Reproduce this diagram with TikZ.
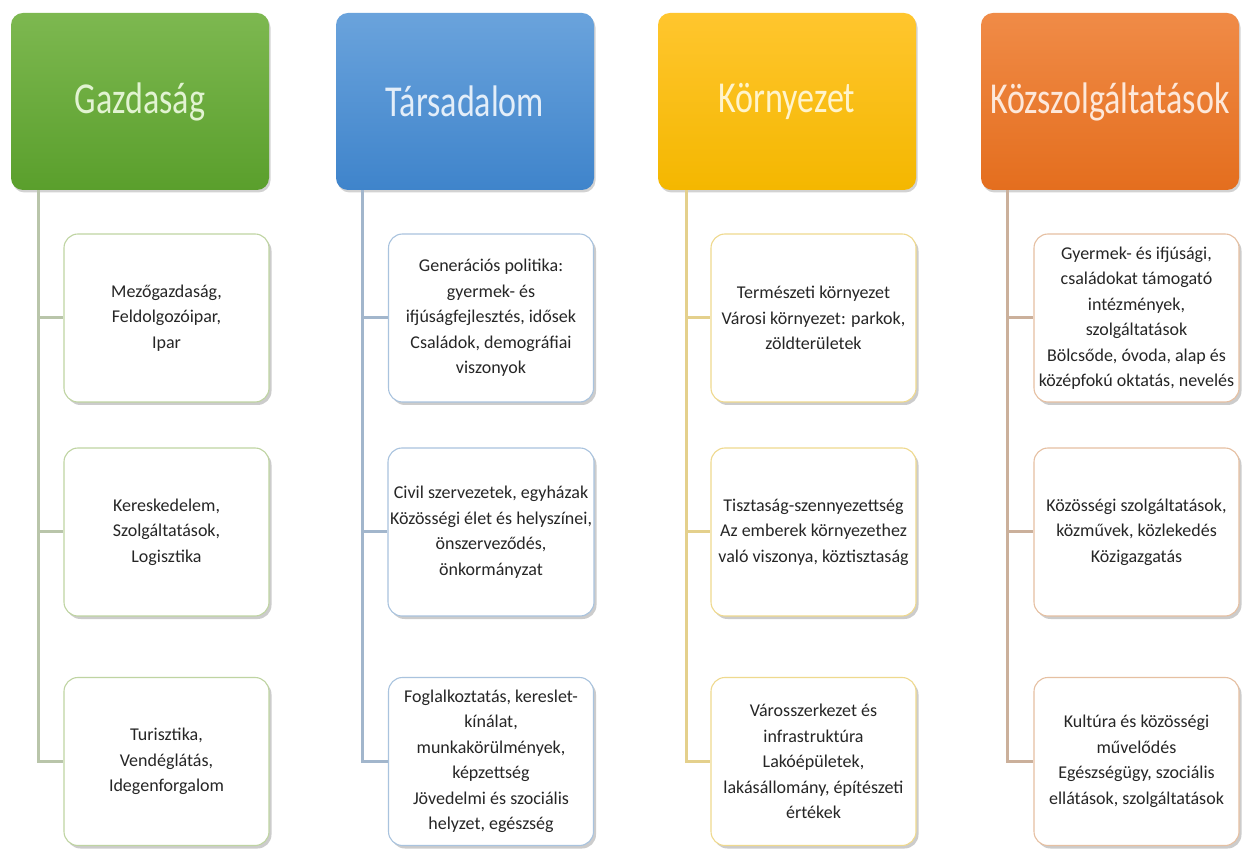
\documentclass[tikz,border=0pt]{standalone}
\usepackage{fontspec}
\usepackage{graphicx}
\setmainfont{Carlito}
\usetikzlibrary{shadows}
\definecolor{gTop}{HTML}{7DB850}
\definecolor{gBot}{HTML}{5A9F2C}
\definecolor{tTop}{HTML}{6AA3DC}
\definecolor{tBot}{HTML}{3F84CB}
\definecolor{kTop}{HTML}{FFC62E}
\definecolor{kBot}{HTML}{F4B700}
\definecolor{oTop}{HTML}{F08B47}
\definecolor{oBot}{HTML}{E46E1E}
\definecolor{gTxt}{HTML}{E2F3D2}
\definecolor{tTxt}{HTML}{E3EEF9}
\definecolor{kTxt}{HTML}{FFF4CC}
\definecolor{oTxt}{HTML}{FDE8DA}
\definecolor{gBrd}{HTML}{BFD4A2}
\definecolor{tBrd}{HTML}{A9C3DE}
\definecolor{kBrd}{HTML}{EFD98E}
\definecolor{oBrd}{HTML}{E6C0A2}
\definecolor{gLn}{HTML}{B9C5AA}
\definecolor{tLn}{HTML}{A2B6CC}
\definecolor{kLn}{HTML}{E4D08C}
\definecolor{oLn}{HTML}{CBB09B}
\definecolor{kidTxt}{HTML}{262626}
\tikzset{
  hdr/.style={rectangle, rounded corners=12pt, minimum width=258pt, minimum height=177pt,
    inner sep=0pt, drop shadow={shadow xshift=1.5pt, shadow yshift=-2.5pt, opacity=.35},
    font=\fontsize{34}{40}\selectfont},
  kid/.style={rectangle, draw, fill=white, rounded corners=14pt, minimum width=205pt,
    minimum height=168pt, line width=1.1pt, align=center, inner sep=2pt,
    drop shadow={shadow xshift=2.5pt, shadow yshift=-3pt, opacity=.4},
    font=\fontsize{18}{25.5}\selectfont, text=kidTxt},
  conn/.style={line width=3pt},
}
\begin{document}
\begin{tikzpicture}[x=1pt,y=1pt]
\fill[white] (0,0) rectangle (1242,852);
\useasboundingbox (0,0) rectangle (1242,852);

% headers
\node[hdr, top color=gTop, bottom color=gBot, text=gTxt] (G) at (140,750.5) {\scalebox{1}[1.3]{Gazdaság}};
\node[hdr, top color=tTop, bottom color=tBot, text=tTxt] (T) at (465,750.5) {\scalebox{1}[1.3]{Társadalom}};
\node[hdr, top color=kTop, bottom color=kBot, text=kTxt] (K) at (787,750.5) {\scalebox{1}[1.3]{Környezet}};
\node[hdr, top color=oTop, bottom color=oBot, text=oTxt] (O) at (1110,750.5) {\scalebox{1}[1.3]{Közszolgáltatások}};

% Gazdaság children
\node[kid, draw=gBrd] (G1) at (166.5,534) {Mezőgazdaság,\\Feldolgozóipar,\\Ipar};
\node[kid, draw=gBrd] (G2) at (166.5,320) {Kereskedelem,\\Szolgáltatások,\\Logisztika};
\node[kid, draw=gBrd] (G3) at (166.5,90.5) {Turisztika,\\Vendéglátás,\\Idegenforgalom};

% Társadalom children
\node[kid, draw=tBrd] (T1) at (491,534) {Generációs politika:\\gyermek- és\\ifjúságfejlesztés, idősek\\Családok, demográfiai\\viszonyok};
\node[kid, draw=tBrd] (T2) at (491,320) {Civil szervezetek, egyházak\\Közösségi élet és helyszínei,\\önszerveződés,\\önkormányzat};
\node[kid, draw=tBrd] (T3) at (491,90.5) {Foglalkoztatás, kereslet-\\kínálat,\\munkakörülmények,\\képzettség\\Jövedelmi és szociális\\helyzet, egészség};

% Környezet children
\node[kid, draw=kBrd] (K1) at (813.5,534) {Természeti környezet\\Városi környezet: parkok,\\zöldterületek};
\node[kid, draw=kBrd] (K2) at (813.5,320) {Tisztaság-szennyezettség\\Az emberek környezethez\\való viszonya, köztisztaság};
\node[kid, draw=kBrd] (K3) at (813.5,90.5) {Városszerkezet és\\infrastruktúra\\Lakóépületek,\\lakásállomány, építészeti\\értékek};

% Közszolgáltatások children
\node[kid, draw=oBrd] (O1) at (1136.5,534) {Gyermek- és ifjúsági,\\családokat támogató\\intézmények,\\szolgáltatások\\Bölcsőde, óvoda, alap és\\középfokú oktatás, nevelés};
\node[kid, draw=oBrd] (O2) at (1136.5,320) {Közösségi szolgáltatások,\\közművek, közlekedés\\Közigazgatás};
\node[kid, draw=oBrd] (O3) at (1136.5,90.5) {Kultúra és közösségi\\művelődés\\Egészségügy, szociális\\ellátások, szolgáltatások};

% connectors
\coordinate (gs) at ([xshift=28pt]G.south west);
\coordinate (ts) at ([xshift=27pt]T.south west);
\coordinate (ks) at ([xshift=29pt]K.south west);
\coordinate (os) at ([xshift=27pt]O.south west);

\draw[conn, gLn] (gs) |- (G3.west);
\draw[conn, gLn] (gs |- G1.west) -- (G1.west);
\draw[conn, gLn] (gs |- G2.west) -- (G2.west);

\draw[conn, tLn] (ts) |- (T3.west);
\draw[conn, tLn] (ts |- T1.west) -- (T1.west);
\draw[conn, tLn] (ts |- T2.west) -- (T2.west);

\draw[conn, kLn] (ks) |- (K3.west);
\draw[conn, kLn] (ks |- K1.west) -- (K1.west);
\draw[conn, kLn] (ks |- K2.west) -- (K2.west);

\draw[conn, oLn] (os) |- (O3.west);
\draw[conn, oLn] (os |- O1.west) -- (O1.west);
\draw[conn, oLn] (os |- O2.west) -- (O2.west);
\end{tikzpicture}
\end{document}
